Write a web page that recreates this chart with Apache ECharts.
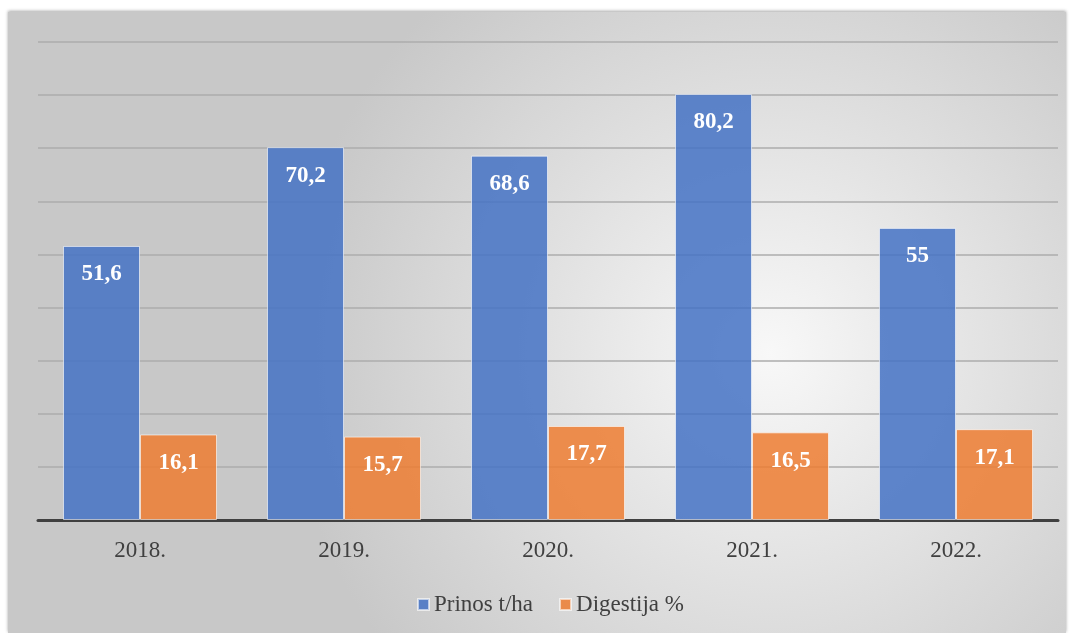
<!DOCTYPE html>
<html>
<head>
<meta charset="utf-8">
<script src="https://cdn.jsdelivr.net/npm/echarts@6/dist/echarts.min.js"></script>
<style>
  html, body { margin: 0; padding: 0; background: #fff; }
  #chart { width: 1073px; height: 633px; }
</style>
</head>
<body>
<div id="chart"></div>
<script>
var years = ['2018.', '2019.', '2020.', '2021.', '2022.'];
var prinos = [51.6, 70.2, 68.6, 80.2, 55];
var digestija = [16.1, 15.7, 17.7, 16.5, 17.1];

var chart = echarts.init(document.getElementById('chart'));

function commaLabel(p) {
  return String(p.value).replace('.', ',');
}

var labelStyle = {
  show: true,
  position: 'insideTop',
  distance: 17,
  color: '#fff',
  fontFamily: 'Liberation Serif',
  fontWeight: 'bold',
  fontSize: 23,
  formatter: commaLabel
};

chart.setOption({
  backgroundColor: '#fff',
  animation: false,
  graphic: [{
    type: 'rect',
    z: -10,
    shape: { x: 8, y: 12, width: 1058, height: 621 },
    style: {
      fill: {
        type: 'radial', x: 0.72, y: 0.55, r: 0.78,
        colorStops: [
          { offset: 0, color: '#f8f8f8' },
          { offset: 1, color: '#c8c8c8' }
        ]
      },
      shadowColor: 'rgba(0,0,0,0.35)',
      shadowBlur: 3,
      shadowOffsetY: -1
    }
  }],
  grid: { left: 38, right: 15, top: 42, bottom: 113 },
  legend: {
    bottom: 12,
    left: 412,
    itemWidth: 11,
    itemHeight: 11,
    itemGap: 26,
    icon: 'rect',
    textStyle: { fontFamily: 'Liberation Serif', fontSize: 23, color: '#404040' },
    data: ['Prinos t/ha', 'Digestija %']
  },
  xAxis: {
    type: 'category',
    data: years,
    axisLine: { lineStyle: { color: '#404040', width: 3 } },
    axisTick: { show: false },
    axisLabel: { fontFamily: 'Liberation Serif', fontSize: 23, color: '#404040', margin: 19 }
  },
  yAxis: {
    type: 'value',
    min: 0,
    max: 90,
    interval: 10,
    axisLabel: { show: false },
    axisLine: { show: false },
    axisTick: { show: false },
    splitLine: { lineStyle: { color: '#adadad', width: 1.5 } }
  },
  series: [{
    name: 'Prinos t/ha',
    type: 'bar',
    data: prinos,
    barWidth: 77,
    barGap: '0%',
    itemStyle: { color: 'rgba(68,114,196,0.85)', borderColor: 'rgba(255,255,255,0.6)', borderWidth: 1 },
    label: labelStyle
  }, {
    name: 'Digestija %',
    type: 'bar',
    data: digestija,
    barWidth: 77,
    barGap: '0%',
    itemStyle: { color: 'rgba(237,125,49,0.85)', borderColor: 'rgba(255,255,255,0.6)', borderWidth: 1 },
    label: labelStyle
  }]
});
</script>
</body>
</html>
